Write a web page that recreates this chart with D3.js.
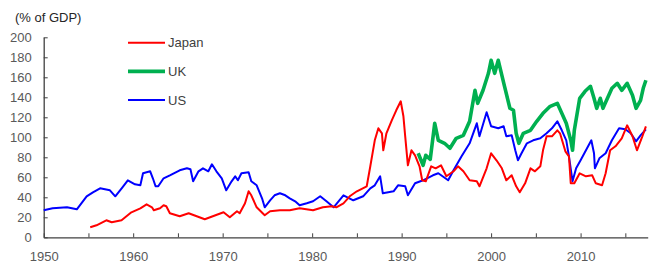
<!DOCTYPE html>
<html>
<head>
<meta charset="utf-8">
<script src="https://cdn.jsdelivr.net/npm/d3@7"></script>
<style>
  html, body { margin: 0; padding: 0; background: #fff; }
  svg { display: block; font-family: "Liberation Sans", Arial, sans-serif; }
</style>
</head>
<body>
<svg id="chart" width="667" height="272"></svg>
<script>
// ---- data ----
const seriesNames = ["Japan", "UK", "US"];

const usYears = [1950, 1951, 1952.6, 1953.7, 1954.8, 1955.5, 1956.3, 1957.4, 1958, 1958.8, 1959.4, 1960.2, 1960.8, 1961.1, 1961.9, 1962.2, 1962.5, 1962.8, 1963.4, 1964.1, 1965.2, 1966, 1966.4, 1966.7, 1967.3, 1967.8, 1968.4, 1968.8, 1969.3, 1969.9, 1970.4, 1971, 1971.4, 1971.7, 1972.1, 1972.9, 1973.2, 1973.8, 1974.4, 1974.7, 1975.3, 1975.8, 1976.4, 1977, 1977.5, 1978.1, 1978.6, 1979.4, 1980.1, 1980.9, 1981.6, 1982.4, 1983.5, 1984.6, 1985.7, 1986.5, 1987, 1987.6, 1987.9, 1989.1, 1989.6, 1990.4, 1990.7, 1991.5, 1992.4, 1993.5, 1994.1, 1995.2, 1995.8, 1996.7, 1997.6, 1998.4, 1998.7, 1999.5, 2000, 2000.8, 2001.4, 2001.7, 2002.3, 2002.7, 2003, 2003.4, 2004, 2004.7, 2005.5, 2006.2, 2006.8, 2007.4, 2007.9, 2008.4, 2008.7, 2009.1, 2009.5, 2010, 2010.6, 2011.2, 2011.5, 2011.6, 2012.1, 2012.8, 2013.5, 2014.3, 2015, 2015.6, 2016.2, 2016.7, 2017.3];
const usValues = [27, 29, 30, 28, 41, 45, 49, 47, 41, 50, 57, 53, 52, 64, 66, 59, 51, 51, 59, 62, 67, 69, 68, 56, 66, 69, 66, 73, 66, 59, 47, 56, 61, 57, 64, 65, 56, 52, 39, 30, 37, 42, 44, 42, 39, 36, 32, 34, 36, 41, 36, 30, 42, 37, 41, 49, 52, 61, 44, 46, 52, 51, 42, 54, 57, 62, 64, 57, 67, 81, 94, 114, 101, 125, 111, 109, 111, 101, 102, 87, 77, 84, 94, 97, 99, 104, 109, 116, 107, 97, 81, 56, 69, 77, 87, 97, 84, 69, 79, 84, 97, 109, 108, 104, 96, 102, 108];

const japanYears = [1955.2, 1955.9, 1957, 1957.6, 1958.7, 1959.8, 1960.8, 1961.5, 1962.1, 1962.3, 1963, 1963.4, 1963.7, 1964.1, 1965.2, 1966.2, 1967.1, 1968, 1968.9, 1970.1, 1970.8, 1971.6, 1971.9, 1972.5, 1972.9, 1973.2, 1973.8, 1974.7, 1975.3, 1976.4, 1977.5, 1978.6, 1980.1, 1981.2, 1982.2, 1982.7, 1983.5, 1984.2, 1985, 1986.1, 1986.5, 1987, 1987.4, 1987.8, 1987.95, 1988.3, 1988.9, 1989.4, 1989.9, 1990.2, 1990.4, 1990.7, 1991.1, 1991.5, 1992, 1992.3, 1992.7, 1993.3, 1993.8, 1994.4, 1995, 1995.8, 1996.3, 1996.9, 1997.6, 1998.4, 1998.7, 1999.5, 2000, 2000.6, 2001.2, 2001.7, 2002.3, 2002.8, 2003.2, 2003.8, 2004.4, 2004.9, 2005.5, 2005.8, 2006.2, 2006.8, 2007.4, 2007.7, 2008.3, 2008.7, 2008.9, 2009.3, 2009.9, 2010.6, 2011.3, 2011.7, 2012.4, 2012.8, 2013.3, 2013.9, 2014.6, 2015.2, 2015.8, 2016.3, 2016.9, 2017.3];
const japanValues = [10, 12, 17, 15, 17, 25, 29, 33, 30, 27, 29, 32, 31, 24, 21, 24, 21, 18, 21, 25, 20, 26, 24, 34, 46, 42, 30, 22, 26, 27, 27, 29, 27, 30, 31, 30, 34, 41, 46, 51, 71, 97, 109, 104, 87, 104, 117, 127, 136, 121, 101, 72, 87, 82, 71, 57, 56, 71, 69, 72, 61, 66, 71, 66, 57, 56, 51, 69, 84, 77, 69, 57, 62, 51, 45, 54, 69, 66, 71, 87, 101, 101, 107, 104, 86, 81, 54, 54, 64, 61, 62, 54, 52, 64, 87, 91, 99, 112, 101, 87, 101, 111];

const ukYears = [1991.85, 1992.4, 1992.7, 1993.2, 1993.7, 1994.1, 1994.8, 1995.4, 1996.1, 1996.9, 1997.6, 1998.2, 1998.5, 1999.1, 1999.7, 2000, 2000.4, 2000.8, 2001.5, 2002.1, 2002.5, 2002.8, 2003.1, 2003.6, 2004.4, 2005.1, 2005.8, 2006.6, 2007.4, 2007.9, 2008.4, 2008.9, 2009.1, 2009.3, 2009.9, 2010.5, 2011.1, 2011.5, 2011.8, 2012.2, 2012.5, 2013.1, 2013.5, 2014.1, 2014.6, 2015.2, 2015.8, 2016.2, 2016.7, 2017, 2017.3];
const ukValues = [84, 72, 82, 78, 114, 97, 94, 89, 99, 102, 116, 147, 134, 147, 164, 177, 164, 177, 151, 129, 127, 104, 94, 104, 107, 116, 124, 131, 134, 124, 114, 97, 87, 107, 139, 146, 151, 139, 129, 139, 129, 141, 149, 154, 147, 154, 142, 129, 137, 149, 157];

const yTicks = [0, 20, 40, 60, 80, 100, 120, 140, 160, 180, 200];
const xTicks = [1950, 1955, 1960, 1965, 1970, 1975, 1980, 1985, 1990, 1995, 2000, 2005, 2010, 2015];
const xLabels = [1950, 1960, 1970, 1980, 1990, 2000, 2010];
const yUnit = "(% of GDP)";

// ---- styling / layout ----
const colors = { Japan: "#ff0000", UK: "#00b050", US: "#0000ff" };
const widths = { Japan: 2, UK: 3.6, US: 2 };
const textColor = "#595959";
const axisColor = "#404040";

const svg = d3.select("#chart");
const x = d3.scaleLinear().domain([1950, 2017.5]).range([43.7, 647.7]);
const y = d3.scaleLinear().domain([0, 200]).range([237.3, 37.3]);

// title
svg.append("text")
  .attr("x", 15).attr("y", 22)
  .attr("font-size", 13).attr("fill", "#262626")
  .text(yUnit);

// axes
const yAxis = d3.axisLeft(y).tickValues(yTicks).tickSizeInner(-4).tickSizeOuter(0).tickPadding(12);
const gy = svg.append("g").attr("transform", `translate(${x.range()[0]},0)`).call(yAxis);
const xAxis = d3.axisBottom(x).tickValues(xTicks).tickSizeInner(-4).tickSizeOuter(0).tickPadding(14)
  .tickFormat(d => xLabels.includes(d) ? String(d) : "");
const gx = svg.append("g").attr("transform", `translate(0,${y.range()[0]})`).call(xAxis);

[gx, gy].forEach(g => {
  g.select(".domain").attr("stroke", axisColor).attr("stroke-width", 1.3);
  g.selectAll(".tick line").attr("stroke", axisColor).attr("stroke-width", 1);
  g.selectAll(".tick text").attr("fill", textColor).attr("font-size", 13)
    .attr("font-family", "'Liberation Sans', Arial, sans-serif");
});

// lines
const line = d3.line().x(d => x(d[0])).y(d => y(d[1])).curve(d3.curveLinear);
const series = {
  US: d3.zip(usYears, usValues),
  Japan: d3.zip(japanYears, japanValues),
  UK: d3.zip(ukYears, ukValues)
};
["US", "Japan", "UK"].forEach(name => {
  svg.append("path")
    .datum(series[name])
    .attr("fill", "none")
    .attr("stroke", colors[name])
    .attr("stroke-width", widths[name])
    .attr("stroke-linejoin", "round")
    .attr("d", line);
});

// legend
const legend = svg.append("g");
seriesNames.forEach((name, i) => {
  const ly = 42.7 + i * 28.7;
  legend.append("line")
    .attr("x1", 128).attr("x2", 165).attr("y1", ly).attr("y2", ly)
    .attr("stroke", colors[name]).attr("stroke-width", widths[name]);
  legend.append("text")
    .attr("x", 168).attr("y", ly + 4.6)
    .attr("font-size", 13).attr("fill", "#404040")
    .text(name);
});
</script>
</body>
</html>
